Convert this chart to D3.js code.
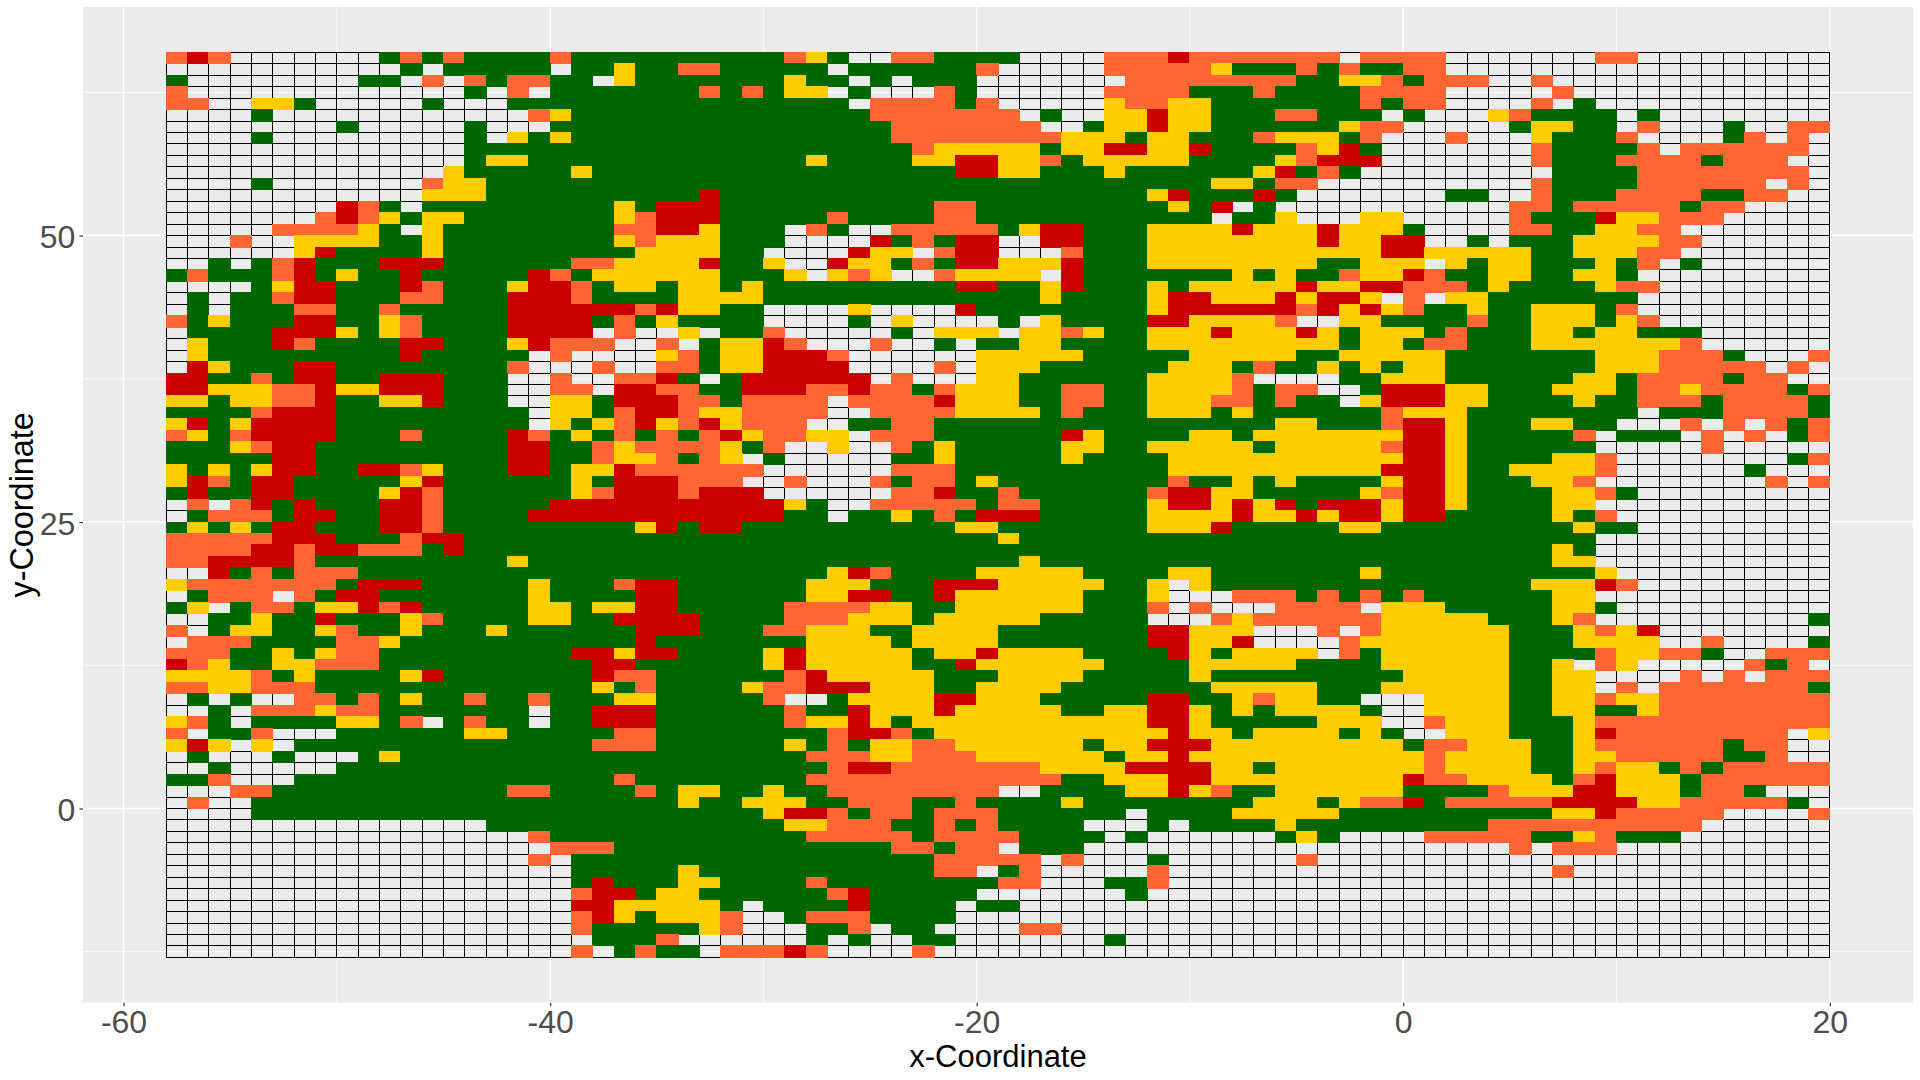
<!DOCTYPE html>
<html><head><meta charset="utf-8">
<script src="https://cdn.jsdelivr.net/npm/d3@7"></script>
<style>html,body{margin:0;padding:0;background:#fff}svg{display:block}text{font-family:"Liberation Sans",Arial,sans-serif}</style>
</head><body>
<script>
const xTicks = [-60,-40,-20,0,20];
const yTicks = [0,25,50];
const xMinor = [-50,-30,-10,10];
const yMinor = [-12.5,12.5,37.5,62.5];
const xFirst = -58;
const yTop = 66;
const codes = ["G","Y","O","R"];
const fills = ["#006600","#FFCC00","#FF6633","#CC0000"];
// each row, top to bottom: "<start column><class>" runs; "." is an empty cell
const rowRuns = [
"0O 1R 2O 3. 10G 11O 12G 13O 14G 18O 19G 29O 30Y 31G 32. 34O 36G 40. 44O 47R 48O 55. 56O 60. 67O 69.",
"0. 11G 12. 13G 18. 19G 21Y 22G 24O 26G 31. 32G 38O 39. 44O 49Y 50G 53O 54G 55O 56G 58O 60.",
"0G 1. 9G 11. 12O 13. 14O 15G 16O 18G 20. 21Y 22G 29Y 30G 32. 33G 34. 35G 38. 45O 53G 55Y 57O 58G 59O 62. 64O 65.",
"0O 1. 14G 15. 16O 17. 18G 25O 26G 27O 28G 29Y 31. 32G 33. 36O 37G 38. 44O 48G 51O 52G 56O 60. 65O 66.",
"0O 2. 4Y 6G 7. 12G 13. 16G 32. 33O 37G 38O 39. 44Y 45O 47Y 49G 56O 57G 58O 60. 64O 65. 66G 67.",
"0. 4G 5. 17O 18Y 19G 33O 40. 41G 42. 44Y 46R 47Y 49G 52O 54G 57. 58G 59. 62Y 63O 64G 68. 69G 70.",
"0. 8G 9. 14G 15. 18G 34O 41. 43G 44Y 46R 47Y 49G 55Y 56O 58. 63G 64Y 66G 68. 69O 70. 73G 74. 76O",
"0. 4G 5. 14G 15. 16Y 17G 18Y 19G 34O 42Y 45G 46Y 48G 51O 52Y 55G 56O 57. 60O 61. 64Y 65G 68O 69. 73G 74O 75. 76O 77.",
"0. 14G 35O 36Y 41G 42Y 44R 46Y 48R 49G 53O 54Y 55R 56G 57. 64O 65G 69O 70. 71O 77.",
"0. 14G 15Y 17G 30Y 31G 35Y 37R 39Y 41O 42G 43Y 48G 52Y 53O 54R 57. 64O 65G 68O 72G 73O 76.",
"0. 13Y 14G 19Y 20G 37R 39Y 41G 44Y 45G 51Y 52R 53G 54O 55G 56. 65G 69O 77.",
"0. 4G 5. 12O 13Y 15G 49Y 51G 52O 54. 64O 65G 69O 75. 76O 77.",
"0. 12Y 15G 25R 26G 46Y 47R 48G 51R 52G 53. 60G 62. 64O 65G 68O 72G 74O 76.",
"0. 8R 9O 10G 11. 12G 21Y 22G 23R 26G 36O 38G 47Y 48G 49R 50. 51G 52. 63O 65G 66O 71G 72O 74.",
"0. 7O 8R 9O 10Y 11G 12Y 14G 21Y 22O 23R 26G 31O 32G 36O 38G 49. 50G 52Y 53. 56Y 58. 63O 64G 67R 68Y 70O 73.",
"0. 5O 9Y 10G 11. 12Y 13G 21O 23R 25Y 26G 29. 30O 31G 32. 34O 39G 40Y 41R 43G 46Y 50R 51Y 54R 55Y 58G 59. 63O 65G 67Y 69O 71.",
"0. 3O 4. 6Y 10G 12Y 13G 21Y 22O 23Y 26G 29. 33R 34G 35O 36G 37R 39. 41R 43G 46Y 54R 55Y 57R 59. 61G 62. 63G 66Y 70O 72.",
"0. 6Y 7R 8G 12Y 13G 22Y 26G 28. 32R 33Y 35. 36O 37R 39. 42O 43G 46Y 57R 59Y 64G 66Y 69O 71.",
"0. 2G 3. 4G 5O 6R 7G 10R 13G 19O 21Y 25R 26G 28Y 29. 31R 32Y 34G 35O 36G 37R 39Y 42R 43G 46Y 54G 56Y 59. 60Y 61G 62Y 64G 67Y 68G 69O 70. 71G 72.",
"0G 1O 2G 5O 6R 7G 8Y 9G 11R 12G 17R 18O 19G 20Y 26G 29Y 30. 31Y 32O 33Y 34. 36O 37Y 41. 42R 43G 50Y 51G 52Y 53G 55O 56Y 58R 59O 60G 62Y 64G 66Y 68G 69.",
"0. 4G 5Y 6R 8G 11R 12O 13G 16Y 17R 19O 20G 21Y 23G 24Y 26G 27Y 28G 37R 39G 41Y 42R 43G 46Y 47G 48Y 53R 54Y 56R 58O 61G 62Y 63G 67Y 68O 70.",
"0. 1G 2. 3G 5O 6R 8G 11O 13G 16R 19O 20G 24Y 28G 41Y 42G 46Y 47R 49Y 52R 53Y 54R 56Y 57. 58O 59. 60Y 62G 69.",
"0. 1G 2. 3G 6O 8G 10O 11G 16R 22O 23R 24Y 26G 28. 32Y 33. 37R 38G 46Y 47R 53O 54R 55Y 56R 57Y 58O 59G 61Y 62G 64Y 67G 68O 69.",
"0O 1G 2Y 3G 6R 8G 10Y 11O 12G 16R 20G 21O 22G 23Y 24G 28. 32G 33. 34Y 35. 39G 40. 41Y 42G 46R 48Y 52O 53. 55Y 57G 61O 62G 64Y 67G 68Y 69O 70.",
"0. 1G 5R 8Y 9G 10Y 11O 12G 16R 20. 21O 22. 24Y 25. 26G 28O 29. 34G 35. 36Y 39. 40Y 42O 43Y 44G 46Y 49R 50Y 53R 54Y 55G 56Y 59G 60O 61G 64Y 66G 67Y 69G 72.",
"0. 1Y 2G 5R 6O 7G 11R 13G 16Y 17R 18O 21. 23O 24. 25G 26Y 28R 29O 30. 33O 34. 36G 37. 38G 40Y 42G 46Y 55G 56Y 58G 59O 61G 64Y 71O 72.",
"0. 1Y 2G 11R 12G 17. 18O 19. 23Y 24O 25G 26Y 28R 31O 32. 38Y 43G 48Y 53G 55Y 60G 67Y 70O 73G 74. 77O",
"0. 1R 2Y 3G 6R 8G 16O 17. 20O 21. 23O 25G 26Y 28R 32. 36O 37. 38Y 41G 47Y 50G 51O 52G 54Y 55G 56Y 57G 58Y 60G 67Y 70O 75. 76O 77.",
"0R 2G 4O 5G 6R 8G 10R 13G 16. 18O 19. 21O 23R 24G 25. 26G 27R 33. 34O 35. 38Y 40G 46Y 50O 51. 55G 57Y 60G 66Y 68G 69O 73G 74O 76.",
"0R 2Y 5O 7R 8Y 10R 13G 16. 18O 20. 21R 23O 25G 27R 30O 32R 33O 35G 36O 37Y 40G 42O 44G 46Y 50O 51G 52O 54. 56G 57R 60Y 62G 65Y 68G 69O 71Y 72O 76G 77O",
"0Y 2G 3Y 5O 7R 8G 10Y 12R 13G 16. 18Y 20G 21R 24O 26G 27O 31. 32O 36R 37Y 40G 42O 44G 46Y 49O 51G 52O 53G 55. 56Y 57R 60Y 62G 66Y 67G 69O 72G 73O 77G",
"0G 4O 5R 8G 17. 18Y 20G 21O 22R 24O 25Y 27O 31. 33O 37Y 41G 42O 43G 46Y 49G 50Y 51G 57O 58Y 61G 69. 70G 73O 77G",
"0Y 1R 2G 3Y 4R 8G 17. 18Y 19G 20Y 21O 22R 23Y 24O 25R 26Y 27O 30. 32G 34O 36G 52Y 54G 57O 58R 60Y 61G 64Y 66G 68. 71O 72. 73O 74. 75O 76G 77O",
"0O 1Y 2G 3O 4R 8G 11O 12G 16R 17O 18G 19Y 20G 21O 22G 23O 24G 25O 26R 27Y 28O 30Y 32. 33O 36G 42R 43Y 44G 48Y 50G 51Y 58R 60Y 61G 66O 67. 68G 71. 72O 73. 74O 75. 76G 77O",
"0G 3Y 4O 5R 7G 16R 18G 20O 21Y 22O 26Y 27G 28O 29. 31Y 32. 34O 35G 36Y 37G 42Y 44G 46Y 51G 52Y 57O 58R 60Y 61G 67. 72O 73.",
"0G 5R 7G 16R 18G 20O 21Y 23O 24G 25O 26Y 27. 28G 29. 34G 36Y 37G 42Y 43G 47Y 58R 60Y 61G 65Y 67O 68. 76G 77O",
"0Y 1G 2Y 3G 4Y 5R 7G 9R 11O 12Y 13G 16R 18G 19Y 21R 22O 28. 34O 37G 47Y 57R 60Y 61G 63Y 67O 68. 74G 75.",
"0Y 1R 2O 3G 4R 6G 11Y 12R 13G 19Y 20G 21R 24O 27. 29O 30. 33O 34G 35O 37G 38Y 39G 47O 48G 50Y 51G 52Y 53G 57Y 58R 60Y 61G 64Y 66O 67. 75O 76. 77O",
"0G 1R 2G 4R 6G 10Y 11R 12O 13G 19Y 20O 21R 24O 25R 28. 34O 36R 37G 39O 40G 46O 47R 49Y 51G 56Y 57O 58R 60Y 61G 65Y 67O 68G 69.",
"0. 1O 2. 3O 4R 5G 6R 7G 10R 12O 13G 18R 29Y 30G 31. 33O 38G 39O 41G 46Y 47R 49Y 50R 51Y 52R 53G 54R 57Y 58R 60Y 61G 65Y 67.",
"0. 1G 2O 5G 6R 8G 10R 12O 13G 17R 29G 31. 32G 34Y 35G 36O 37G 38R 41G 46Y 50R 51Y 53R 54Y 55R 57Y 58R 60G 65Y 66G 67O 68.",
"0G 1Y 2G 3Y 4G 5R 7G 10R 12O 13G 22Y 23R 24G 25R 27G 37Y 39G 46Y 49R 50G 55Y 57G 66Y 67G 69.",
"0O 5R 8G 11O 12R 14G 39Y 40G 67.",
"0O 4R 6O 7R 9O 12G 13R 14G 65Y 66G 67.",
"0O 2R 6O 7G 16Y 17G 40Y 41G 65Y 67.",
"0. 2R 3G 4O 5G 6O 9G 31Y 32R 33O 34G 38Y 43G 47Y 49G 56Y 57G 67Y 68.",
"0Y 1O 8G 9R 12G 17Y 18G 21O 22R 24G 30Y 33G 36R 39Y 44G 46Y 47. 48Y 49G 64Y 67R 68O 69.",
"0. 1G 2O 5. 6O 7G 8R 10G 17Y 18G 22R 24G 30Y 32R 34G 36R 37Y 43G 46Y 47. 50O 53G 54O 55G 56O 57G 58O 59G 65Y 67.",
"0G 1Y 2. 3G 4O 6G 7Y 9R 10O 11R 12G 17Y 19G 20Y 22R 24G 29O 33Y 35G 37Y 43G 46O 47. 48O 49. 52O 56. 57Y 60G 65Y 67G 68.",
"0. 2G 4Y 5G 7R 8G 11Y 12O 13G 17Y 19G 21R 25G 29O 32Y 35G 36Y 41G 46. 49O 50Y 51O 57Y 62G 65Y 66O 67. 77G",
"0O 1. 2G 3Y 5G 7Y 8O 9G 11Y 12G 15Y 16G 22R 25G 28O 30Y 33G 35Y 39G 46R 48Y 51. 54O 55. 56O 57Y 63G 66Y 67O 68Y 69R 70.",
"0. 1O 4G 8O 10Y 11G 22R 23G 30Y 34G 35Y 39G 46R 48Y 50R 51. 55O 56Y 63G 66Y 70. 72O 73. 77G",
"0O 3G 5Y 6G 7Y 8O 10G 19R 21Y 22R 24G 28Y 29R 30Y 35G 36Y 38R 39Y 43G 47R 48Y 49G 50Y 54. 55O 56G 57Y 63G 67O 68Y 70O 72G 73. 75O",
"0R 1O 2Y 3G 5Y 7O 10G 20R 22G 28Y 29R 30Y 35G 37R 38Y 44G 48Y 53G 57Y 63G 65Y 66. 67O 68Y 69. 74O 75G 76O 77.",
"0Y 4O 5G 6Y 7G 11Y 12R 13G 20R 21O 23G 29O 30R 31Y 36G 39Y 43G 48Y 49G 58Y 63G 65Y 67. 71O 72. 73O 74. 75O",
"0O 2Y 4O 7G 20Y 21G 22O 23G 27Y 28O 30R 33Y 36G 38Y 42G 49Y 54G 57Y 63G 65Y 67. 68O 69. 70O 77G",
"0. 1G 2. 3G 4. 6O 8G 9O 10G 11Y 12G 14O 15G 17O 18G 21Y 23G 28O 29. 31G 32Y 36R 38Y 41G 46R 48G 50Y 51O 52Y 54G 56. 59Y 63G 65Y 67O 68Y 70O",
"0. 2G 3. 4O 7Y 8O 10G 17. 18G 20R 23G 29O 30G 32R 33Y 36R 37Y 42G 44Y 46R 48Y 49G 50Y 51G 52Y 56G 57. 59Y 63G 65Y 67G 69Y 70O",
"0Y 1O 2G 3. 4G 8Y 10G 11O 12. 13G 14O 15G 17. 18G 20R 23G 29O 30Y 32R 33Y 34G 35Y 46R 48Y 49G 54Y 57. 59O 60Y 63G 66Y 67O",
"0O 1. 2G 4O 5. 8G 14Y 16G 21O 23G 31O 32R 34O 35G 36Y 47R 48Y 50G 51Y 55G 56Y 57G 58. 60Y 63G 66Y 67R 68O 76. 77Y",
"0Y 1R 2Y 3. 4Y 5. 6G 20O 23G 29Y 30G 31O 32G 33Y 35O 37Y 43G 44Y 46R 49Y 58G 59O 61Y 64G 66Y 67O 73G 74O 76.",
"0. 1G 2. 5G 6. 9G 10Y 11G 30O 33Y 35O 38Y 44G 45Y 47R 48Y 59O 60Y 64G 66Y 68O 73G 75O 76.",
"0. 2G 3. 8G 31O 32R 34O 41Y 45R 49Y 51G 52Y 59O 60Y 64G 66Y 67O 68Y 70G 71O 72G 73O",
"0G 2O 3. 6G 21O 22G 30O 42G 44Y 47R 49Y 58R 59O 61Y 65G 66O 67R 68Y 71G 72O",
"0. 3O 5G 16O 18G 22O 23G 24Y 26G 28Y 29G 31O 39. 41G 45Y 47R 48Y 49O 50G 52Y 58G 62O 63Y 66R 68Y 71G 72O 74G 75.",
"0. 1O 2. 4G 24Y 25G 27Y 30G 32O 35G 37O 38G 42Y 43G 51Y 54G 55Y 56O 58R 59G 60O 65R 69Y 71O 76G 77.",
"0. 4G 28Y 29R 31O 32G 33O 35G 36O 39G 45. 46G 50Y 55G 65Y 67R 68O 73. 77O",
"0. 15G 29Y 31O 34G 36O 37G 38O 39G 43. 46G 47. 48G 52Y 53G 62O 72.",
"0. 17O 18G 30O 35G 36O 40G 44. 45G 46. 52G 53Y 54G 55. 59O 64G 66Y 67O 68G 71.",
"0. 18O 21G 34O 36G 37O 39. 40G 43. 63O 64. 65O 68.",
"0. 17O 18. 19G 36O 41. 42O 43. 46G 47. 53O 54.",
"0. 19G 24Y 25G 36O 38. 39G 40O 41. 46O 47. 65O 66.",
"0. 19G 20R 21G 24Y 26G 30O 31G 39O 41. 44G 46O 47.",
"0. 19O 20R 22G 23Y 25G 31O 32R 33G 38. 45G 46.",
"0. 19R 21Y 26G 27. 28G 32R 33G 37. 38G 40.",
"0. 19O 20R 21Y 22G 23Y 26O 27. 29G 30O 33G 37.",
"0. 19O 20G 25Y 26O 27. 30G 32O 33. 34G 36. 40O 42.",
"0. 20G 23O 24. 30G 31. 32G 33. 35G 37. 44G 45.",
"0. 19O 20. 21G 22O 23G 25. 26O 29R 30O 31. 35O 36."
];
const COLS = 78;

const cells = [];
rowRuns.forEach((row, j) => {
  const runs = row.split(" ").map(t => [parseInt(t, 10), t[t.length - 1]]);
  runs.forEach((r, k) => {
    const end = k + 1 < runs.length ? runs[k + 1][0] : COLS;
    for (let c = r[0]; c < end; c++) cells.push({c, j, v: r[1]});
  });
});

const W = 1920, H = 1080;
const P = {l: 83, r: 1913, t: 7, b: 1002.7};
const x = d3.scaleLinear().domain([-61.9, 23.9]).range([P.l, P.r]);
const y = d3.scaleLinear().domain([-16.95, 69.95]).range([P.b, P.t]);
const fill = d3.scaleOrdinal().domain(codes).range(fills);

const svg = d3.select("body").append("svg").attr("width", W).attr("height", H);
svg.append("rect").attr("x", P.l).attr("y", P.t).attr("width", P.r - P.l).attr("height", P.b - P.t).attr("fill", "#EBEBEB");

const grid = svg.append("g").attr("stroke", "#fff").attr("fill", "none");
grid.selectAll(".xn").data(xMinor).join("line").attr("x1", x).attr("x2", x).attr("y1", P.t).attr("y2", P.b).attr("stroke-width", 0.8);
grid.selectAll(".yn").data(yMinor).join("line").attr("y1", y).attr("y2", y).attr("x1", P.l).attr("x2", P.r).attr("stroke-width", 0.8);
grid.selectAll(".xm").data(xTicks).join("line").attr("x1", x).attr("x2", x).attr("y1", P.t).attr("y2", P.b).attr("stroke-width", 1.5);
grid.selectAll(".ym").data(yTicks).join("line").attr("y1", y).attr("y2", y).attr("x1", P.l).attr("x2", P.r).attr("stroke-width", 1.5);

const tile = sel => sel
  .attr("x", d => x(xFirst + d.c))
  .attr("y", d => y(yTop - d.j))
  .attr("width", d => x(xFirst + d.c + 1) - x(xFirst + d.c))
  .attr("height", d => y(yTop - d.j - 1) - y(yTop - d.j));

svg.append("g").attr("shape-rendering", "crispEdges").selectAll("rect").data(cells.filter(d => d.v === ".")).join("rect").call(tile)
  .attr("fill", "none").attr("stroke", "#000").attr("stroke-width", 1);
svg.append("g").attr("shape-rendering", "crispEdges").selectAll("rect").data(cells.filter(d => d.v !== ".")).join("rect").call(tile)
  .attr("fill", d => fill(d.v)).attr("stroke", d => fill(d.v)).attr("stroke-width", 1);

const hyphen = d => String(d);
const xAxis = svg.append("g").attr("transform", `translate(0,${P.b})`)
  .call(d3.axisBottom(x).tickValues(xTicks).tickFormat(hyphen).tickSize(3.6).tickPadding(4));
const yAxis = svg.append("g").attr("transform", `translate(${P.l},0)`)
  .call(d3.axisLeft(y).tickValues(yTicks).tickFormat(hyphen).tickSize(3.6).tickPadding(4));
[xAxis, yAxis].forEach(a => {
  a.select(".domain").remove();
  a.selectAll("line").attr("stroke", "#333").attr("stroke-width", 1.2);
  a.selectAll("text").attr("fill", "#4D4D4D").style("font-size", "32px").style("font-family", '"Liberation Sans",Arial,sans-serif');
});
yAxis.selectAll("text").attr("dy", "0.38em");

svg.append("text").attr("x", (P.l + P.r) / 2).attr("y", 1066.5).attr("text-anchor", "middle")
  .style("font-size", "31px").attr("fill", "#000").text("x-Coordinate");
svg.append("text").attr("transform", `translate(33,${(P.t + P.b) / 2}) rotate(-90)`).attr("text-anchor", "middle")
  .style("font-size", "32.4px").attr("fill", "#000").text("y-Coordinate");
</script>
</body></html>
